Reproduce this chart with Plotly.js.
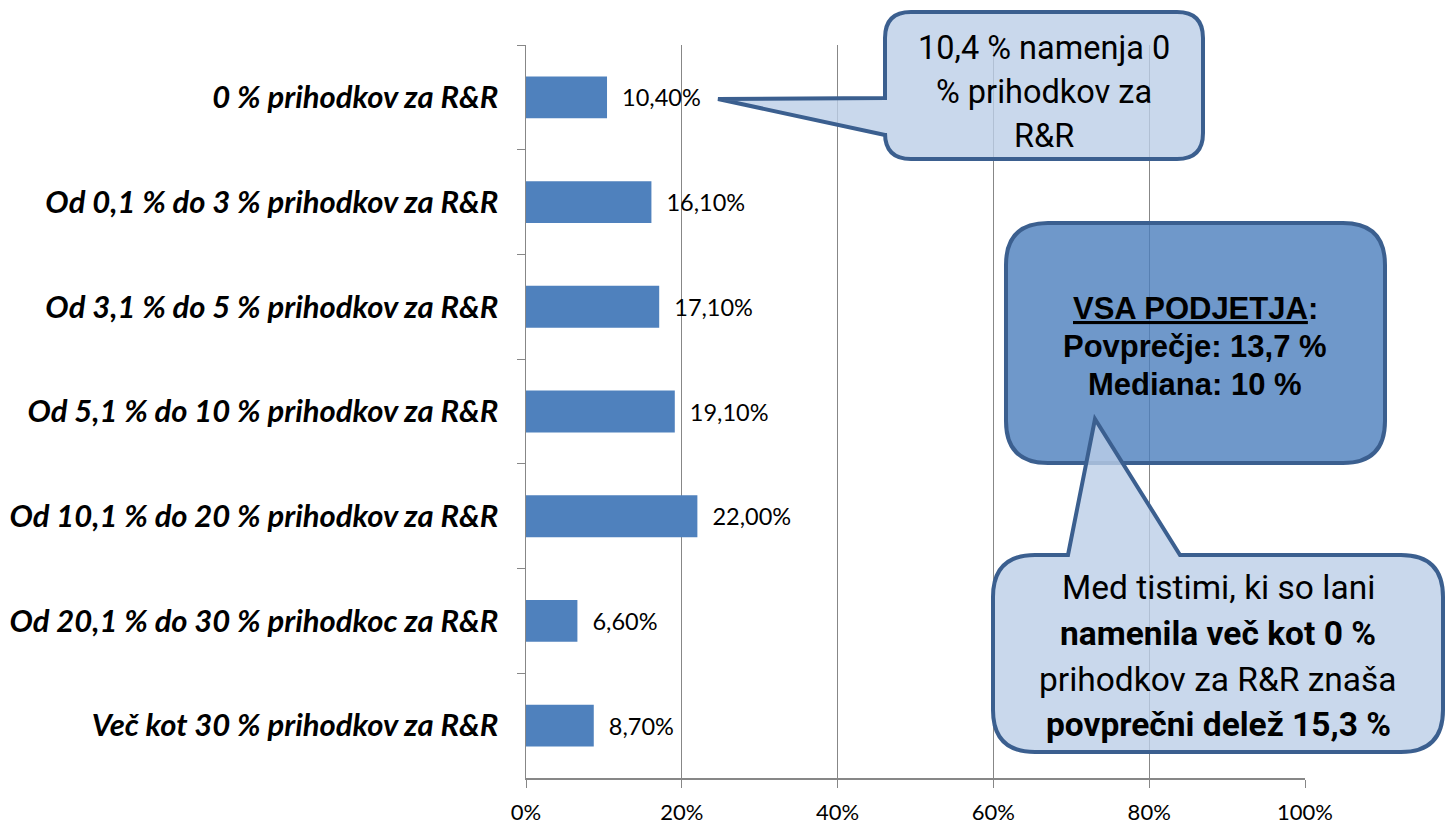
<!DOCTYPE html>
<html>
<head>
<meta charset="utf-8">
<script src="https://cdn.plot.ly/plotly-3.0.1.min.js"></script>
<style>
  html, body { margin: 0; padding: 0; background: #fff; }
  #graph { width: 1447px; height: 825px; }
</style>
</head>
<body>
<div id="graph"></div>
<script>
const categories = [
    "0 % prihodkov za R&R",
    "Od 0,1 % do 3 % prihodkov za R&R",
    "Od 3,1 % do 5 % prihodkov za R&R",
    "Od 5,1 % do 10 % prihodkov za R&R",
    "Od 10,1 % do 20 % prihodkov za R&R",
    "Od 20,1 % do 30 % prihodkoc za R&R",
    "Več kot 30 % prihodkov za R&R"
]
const shares = [0.104, 0.161, 0.171, 0.191, 0.220, 0.066, 0.087]
const xTicks = [0, 0.2, 0.4, 0.6, 0.8, 1]

const note1 = ["10,4 % namenja 0", "% prihodkov za", "R&R"]
const note2 = ["<u>VSA PODJETJA</u>:", "Povprečje: 13,7 %", "Mediana: 10 %"]
const note3 = ["Med tistimi, ki so lani", "<b>namenila več kot 0 %</b>", "prihodkov za R&R znaša", "<b>povprečni delež 15,3 %</b>"]

// plot area in pixels, used to place the callouts in paper units
const plotL = 526, plotR = 1305, plotT = 45, plotB = 778
const pw = plotR - plotL, ph = plotB - plotT
const P = (x, y) => `${((x - plotL) / pw).toFixed(5)},${((plotB - y) / ph).toFixed(5)}`
const PX = (x) => (x - plotL) / pw
const PY = (y) => (plotB - y) / ph

const edge = "#3b5f8f"
const narrow = "Roboto, Liberation Sans, sans-serif"

// callout 1: pointer on the left towards the first bar label
const c1 = {l: 885, t: 12, r: 1203, b: 159, rad: 26}
const path1 = [
    `M${P(c1.l + c1.rad, c1.t)}`, `L${P(c1.r - c1.rad, c1.t)}`,
    `Q${P(c1.r, c1.t)} ${P(c1.r, c1.t + c1.rad)}`, `L${P(c1.r, c1.b - c1.rad)}`,
    `Q${P(c1.r, c1.b)} ${P(c1.r - c1.rad, c1.b)}`, `L${P(c1.l + c1.rad, c1.b)}`,
    `Q${P(c1.l, c1.b)} ${P(c1.l, c1.b - c1.rad)}`, `L${P(c1.l, 135)}`,
    `L${P(718, 99)}`, `L${P(c1.l, 98)}`, `L${P(c1.l, c1.t + c1.rad)}`,
    `Q${P(c1.l, c1.t)} ${P(c1.l + c1.rad, c1.t)}`, "Z"
].join(" ")

// callout 2: plain rounded box
const c2 = {l: 1006, t: 223, r: 1385, b: 463, rad: 42}
const path2 = [
    `M${P(c2.l + c2.rad, c2.t)}`, `L${P(c2.r - c2.rad, c2.t)}`,
    `Q${P(c2.r, c2.t)} ${P(c2.r, c2.t + c2.rad)}`, `L${P(c2.r, c2.b - c2.rad)}`,
    `Q${P(c2.r, c2.b)} ${P(c2.r - c2.rad, c2.b)}`, `L${P(c2.l + c2.rad, c2.b)}`,
    `Q${P(c2.l, c2.b)} ${P(c2.l, c2.b - c2.rad)}`, `L${P(c2.l, c2.t + c2.rad)}`,
    `Q${P(c2.l, c2.t)} ${P(c2.l + c2.rad, c2.t)}`, "Z"
].join(" ")

// callout 3: pointer on the top into callout 2
const c3 = {l: 993, t: 555, r: 1443, b: 752, rad: 42}
const path3 = [
    `M${P(c3.l + c3.rad, c3.t)}`, `L${P(1068, c3.t)}`, `L${P(1095, 419)}`, `L${P(1180, c3.t)}`,
    `L${P(c3.r - c3.rad, c3.t)}`,
    `Q${P(c3.r, c3.t)} ${P(c3.r, c3.t + c3.rad)}`, `L${P(c3.r, c3.b - c3.rad)}`,
    `Q${P(c3.r, c3.b)} ${P(c3.r - c3.rad, c3.b)}`, `L${P(c3.l + c3.rad, c3.b)}`,
    `Q${P(c3.l, c3.b)} ${P(c3.l, c3.b - c3.rad)}`, `L${P(c3.l, c3.t + c3.rad)}`,
    `Q${P(c3.l, c3.t)} ${P(c3.l + c3.rad, c3.t)}`, "Z"
].join(" ")

const shapes = [
    {type: "path", xref: "paper", yref: "paper", path: path1, fillcolor: "rgba(188,206,231,0.8)", line: {color: edge, width: 4}},
    {type: "path", xref: "paper", yref: "paper", path: path2, fillcolor: "rgba(75,126,189,0.8)", line: {color: edge, width: 4}},
    {type: "path", xref: "paper", yref: "paper", path: path3, fillcolor: "rgba(188,206,231,0.8)", line: {color: edge, width: 4}}
]

const annotations = []
note1.forEach((t, i) => annotations.push({
    xref: "paper", yref: "paper", x: PX(1044), y: PY(48 + i * 44), text: t, showarrow: false,
    xanchor: "center", yanchor: "middle", font: {family: narrow, size: 32.5, color: "#000"}
}))
note2.forEach((t, i) => annotations.push({
    xref: "paper", yref: "paper", x: PX(1195), y: PY(308 + i * 38), text: t, showarrow: false,
    xanchor: "center", yanchor: "middle", font: {family: "Liberation Sans, Arial, sans-serif", size: 31, color: "#000", weight: 700}
}))
note3.forEach((t, i) => annotations.push({
    xref: "paper", yref: "paper", x: PX(1218), y: PY(588 + i * 45.5), text: t, showarrow: false,
    xanchor: "center", yanchor: "middle", font: {family: narrow, size: 33.5, color: "#000"}
}))

const trace = {
    type: "bar",
    orientation: "h",
    x: shares,
    y: categories,
    marker: {color: "#4f81bd"},
    texttemplate: "\u00a0\u00a0%{x:.2%}",
    textposition: "outside",
    cliponaxis: false,
    textfont: {family: "Lato, sans-serif", size: 23.5, color: "#000"},
    hoverinfo: "none"
}

Plotly.newPlot("graph", [trace], {
    width: 1447,
    height: 825,
    margin: {l: plotL, r: 1447 - plotR, t: plotT, b: 825 - plotB},
    paper_bgcolor: "#fff",
    plot_bgcolor: "#fff",
    separators: ",.",
    bargap: 0.6,
    showlegend: false,
    xaxis: {
        range: [0, 1],
        tickvals: xTicks,
        tickformat: ".0%",
        showgrid: true,
        gridcolor: "#878787",
        gridwidth: 1.2,
        zeroline: false,
        showline: true,
        linecolor: "#878787",
        linewidth: 1.5,
        ticks: "outside",
        ticklen: 8,
        tickcolor: "#878787",
        ticklabelstandoff: 6,
        tickfont: {family: "Lato, sans-serif", size: 22, color: "#000"},
        fixedrange: true
    },
    yaxis: {
        type: "category",
        autorange: "reversed",
        showgrid: false,
        zeroline: false,
        showline: true,
        linecolor: "#878787",
        linewidth: 1.5,
        ticks: "outside",
        tickson: "boundaries",
        ticklen: 8,
        tickcolor: "#878787",
        ticklabelstandoff: 20,
        tickfont: {family: "Lato, sans-serif", size: 31, color: "#000", weight: 700, style: "italic"},
        fixedrange: true
    },
    shapes,
    annotations
}, {displayModeBar: false, staticPlot: true})
</script>
</body>
</html>
